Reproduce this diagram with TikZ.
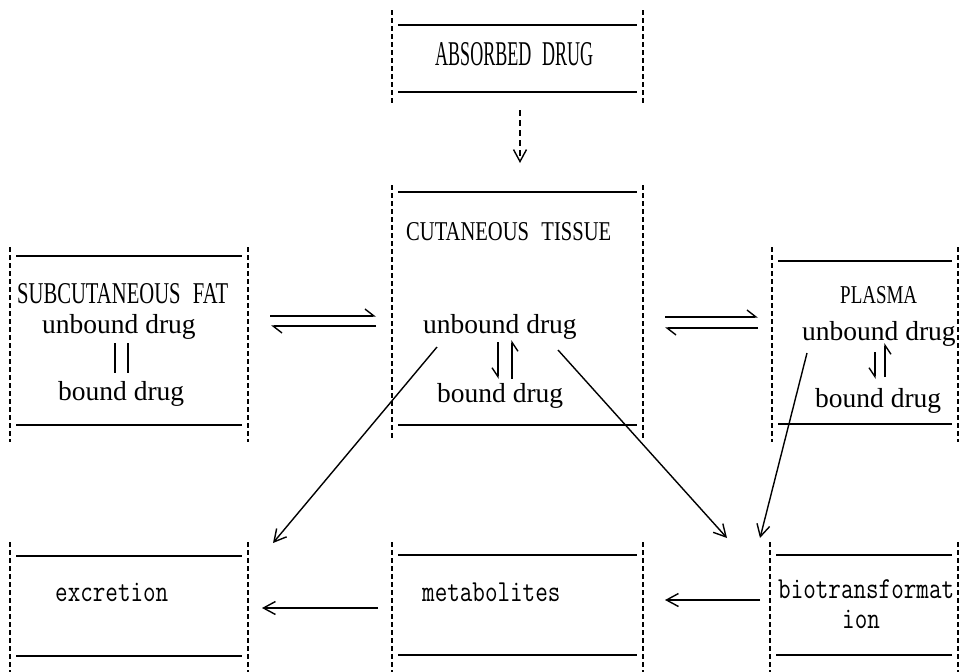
\documentclass[tikz,border=0pt]{standalone}
\usepackage{fontspec}
\setmainfont{Liberation Serif}
\usetikzlibrary{arrows.meta,calc}
\newcommand\tbox[6]{%
  \draw[vside] (#1,#3) -- (#1,#4);
  \draw[vside] (#2,#3) -- (#2,#4);
  \draw[hside] ($(#1,#5)+(6,0)$) -- ($(#2,#5)+(-6,0)$);
  \draw[hside] ($(#1,#6)+(6,0)$) -- ($(#2,#6)+(-6,0)$);
}
\begin{document}
\begin{tikzpicture}[x=1pt,y=-1pt,
  vside/.style={line width=1.5pt, dash pattern=on 5pt off 3pt},
  hside/.style={line width=1.5pt},
  lbl/.style={inner sep=0pt, anchor=base west, font=\fontsize{27.5}{30}\selectfont},
  caps/.style={inner sep=0pt, anchor=base west},
  mlbl/.style={inner sep=0pt, anchor=base west, font=\ttfamily\fontsize{24.4}{26}\selectfont},
  conn/.style={line width=1.4pt, -{Straight Barb[length=12pt,width=13pt,line width=1.4pt]}},
  dconn/.style={conn, dash pattern=on 6pt off 4pt},
  harp/.style={line width=1.4pt, -{Straight Barb[harpoon,length=9pt,width=14pt,line width=1.4pt]}},
  harpsw/.style={line width=1.4pt, -{Straight Barb[harpoon,swap,length=9pt,width=12pt,line width=1.4pt]}},
  dbl/.style={line width=1.8pt},
]
\useasboundingbox (0,0) rectangle (964,672);
\fill[white] (0,0) rectangle (964,672);

% boxes
\tbox{392}{643}{10}{104}{25}{92}
\tbox{392}{643}{185}{440}{192}{425}
\tbox{10}{248}{247}{442}{256}{425}
\tbox{772}{958}{247}{442}{261}{424}
\tbox{10}{248}{542}{672}{556}{656}
\tbox{392}{643}{542}{672}{555}{655}
\tbox{770}{958}{542}{672}{555}{655}

% texts
\node[caps] (abs) at (435,65) {\resizebox{158pt}{23pt}{ABSORBED\hspace{0.6em}DRUG}};
\node[caps] (cut) at (406,240) {\resizebox{205pt}{18pt}{CUTANEOUS\hspace{0.6em}TISSUE}};
\node[caps] (fat) at (17,303) {\resizebox{211pt}{20pt}{SUBCUTANEOUS\hspace{0.6em}FAT}};
\node[caps] (pla) at (840,303) {\resizebox{77pt}{17pt}{PLASMA}};

\node[lbl] (fatu) at (42,333) {unbound drug};
\node[lbl] (fatb) at (58,400) {bound drug};
\node[lbl] (cutu) at (423,333) {unbound drug};
\node[lbl] (cutb) at (437,402) {bound drug};
\node[lbl] (plau) at (802,340) {unbound drug};
\node[lbl] (plab) at (815,407) {bound drug};

\node[mlbl] (exc) at (55,601) {\scalebox{1}[1.25]{excretion}};
\node[mlbl] (met) at (422,601) {\scalebox{1}[1.25]{metabolites}};
\node[mlbl] (bio1) at (778,598) {\scalebox{1}[1.25]{biotransformat}};
\node[mlbl] (bio2) at (842,628) {\scalebox{1}[1.25]{ion}};

% connector end points
\coordinate (absB) at (520,110);
\coordinate (cutT) at (520,163);
\coordinate (cutL) at (437,347);
\coordinate (excT) at (273,543);
\coordinate (cutR) at (558,350);
\coordinate (bioA) at (727,538);
\coordinate (plaS) at (807,353);
\coordinate (bioB) at (760,538);
\coordinate (bioW) at (760,600);
\coordinate (metE) at (665,600);
\coordinate (metW) at (378,608);
\coordinate (excE) at (262,608);

\draw[dconn] (absB) -- (cutT);
\draw[conn] (cutL) -- (excT);
\draw[conn] (cutR) -- (bioA);
\draw[conn] (plaS) -- (bioB);
\draw[conn] (bioW) -- (metE);
\draw[conn] (metW) -- (excE);

% equilibria between compartments
\coordinate (e1a) at (270,316); \coordinate (e1b) at (376,316);
\coordinate (e1c) at (376,326); \coordinate (e1d) at (271,326);
\draw[harp] (e1a) -- (e1b);
\draw[harp] (e1c) -- (e1d);
\coordinate (e2a) at (665,317); \coordinate (e2b) at (758,317);
\coordinate (e2c) at (758,328); \coordinate (e2d) at (665,328);
\draw[harp] (e2a) -- (e2b);
\draw[harp] (e2c) -- (e2d);

% binding equilibria
\coordinate (c1a) at (498,342); \coordinate (c1b) at (498,379);
\coordinate (c2a) at (512,379); \coordinate (c2b) at (512,340);
\draw[harpsw] (c1a) -- (c1b);
\draw[harpsw] (c2a) -- (c2b);
\coordinate (p1a) at (875,352); \coordinate (p1b) at (875,379);
\coordinate (p2a) at (885,377); \coordinate (p2b) at (885,343);
\draw[harpsw] (p1a) -- (p1b);
\draw[harpsw] (p2a) -- (p2b);
\coordinate (f1a) at (115,343); \coordinate (f1b) at (115,373);
\coordinate (f2a) at (128,343); \coordinate (f2b) at (128,373);
\draw[dbl] (f1a) -- (f1b);
\draw[dbl] (f2a) -- (f2b);
\end{tikzpicture}
\end{document}
